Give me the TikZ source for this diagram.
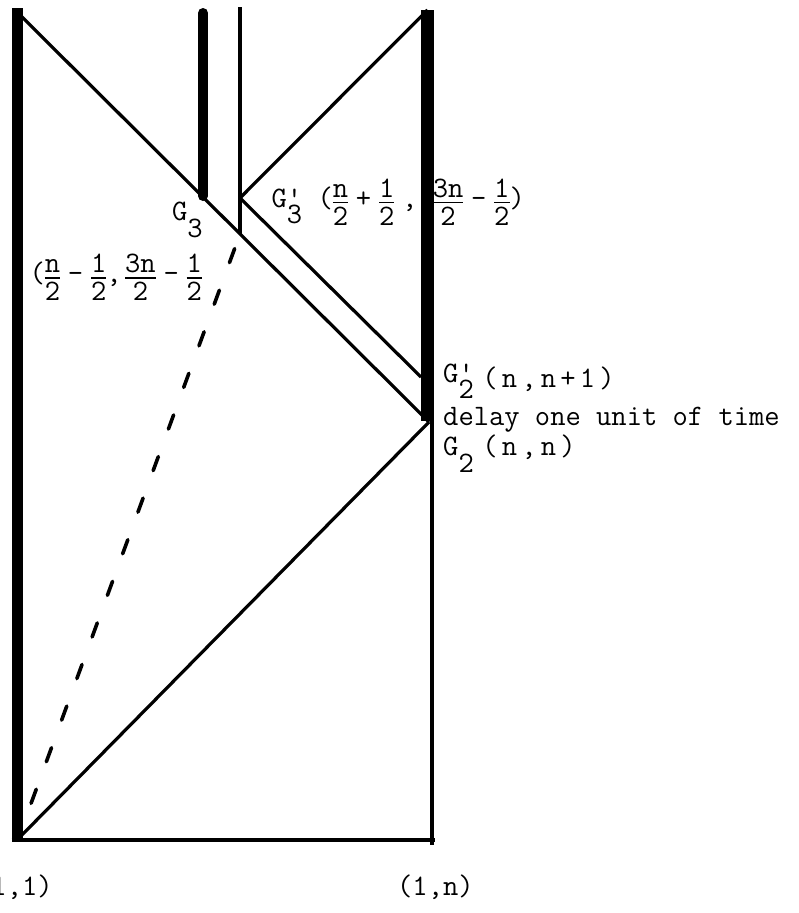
\documentclass[tikz,border=0pt]{standalone}
\usepackage{fontspec}
\newcommand\hs{\hspace{7.8pt}}
\newcommand\fr[2]{\ooalign{\hfil\raisebox{10pt}{#1}\hfil\cr\hfil\raisebox{-18pt}{#2}\hfil\cr\leaders\hrule height 5.3pt depth -3.7pt\hfill\cr}}
\newcommand\stk[2]{\ooalign{#1\cr\raisebox{-16.5pt}{#2}\cr}}
\newcommand\prm{\char"27}
\newcommand\wch[1]{\makebox[19.5pt]{#1}}
\begin{document}
\begin{tikzpicture}[x=1pt,y=-1pt,
  thinln/.style={line width=3.2pt},
  heavy/.style={line width=11pt},
  lab/.style={inner sep=0pt,anchor=base west,font=\fontsize{29.7}{34}\ttfamily}]
\useasboundingbox (0,0) rectangle (798,913);
% points
\coordinate (LBtop) at (17,8);
\coordinate (LBbot) at (17,840);
\coordinate (TL) at (17,12);
\coordinate (BL) at (18,839);
\coordinate (BLc) at (11.5,839.5);
\coordinate (BRc) at (434.5,839.5);
\coordinate (G2) at (429,422);
\coordinate (G2p) at (421,377);
\coordinate (G3top) at (203,13);
\coordinate (G3) at (203,196);
\coordinate (Vtop) at (240,7);
\coordinate (G3p) at (240,198);
\coordinate (X) at (240,234);
\coordinate (RBtop) at (427.5,10);
\coordinate (RBbot) at (427.5,421);
\coordinate (Rtop) at (432,419);
\coordinate (Rbot) at (432,845);
% labels
\node[lab] (g3) at (172,220) {G\raisebox{-17pt}{3}};
\node[lab] (g3pl) at (271.5,207) {G\stk{\prm}{3}\ (\fr{n}{2}\hs+\hs\fr{1}{2}\hs,\ \fr{3n}{2}\hs-\hs\fr{1}{2})};
\node[lab] (c2) at (29.4,282.5) {(\fr{n}{2}\hs-\hs\fr{1}{2},\hspace{3.5pt}\fr{3n}{2}\hs-\hs\fr{1}{2}};
\node[lab] (g2pl) at (443,382) {G\stk{\prm}{2}};
\node[lab] (g2pc) at (480,387) {\wch{(}\wch{n}\wch{,}\wch{n}\wch{+}\wch{1}\wch{)}};
\node[lab] (delay) at (443,425) {delay one unit of time};
\node[lab] (g2l) at (443,455) {G\raisebox{-17pt}{2}};
\node[lab] (g2c) at (480,455) {\wch{(}\wch{n}\wch{,}\wch{n}\wch{)}};
\node[lab] (p11) at (-24,895) {(1,1)};
\node[lab] (p1n) at (397,895) {(1,n)};
% lines
\draw[heavy] (LBtop) -- (LBbot);
\draw[line width=4pt] (BLc) -- (BRc);
\draw[thinln] (TL) -- (G2);
\draw[thinln] (BL) -- (G2);
\draw[line width=10pt,line cap=round] (G3top) -- (G3);
\draw[thinln] (Vtop) -- (X);
\draw[thinln] (G3p) -- (RBtop);
\draw[thinln] (G3p) -- (G2p);
\draw[line width=3.6pt,line cap=round,dash pattern=on 15pt off 29.3pt,shorten <=38pt] (BL) -- (X);
\draw[line width=12.5pt] (RBtop) -- (RBbot);
\draw[line width=4.5pt] (Rtop) -- (Rbot);
\end{tikzpicture}
\end{document}
